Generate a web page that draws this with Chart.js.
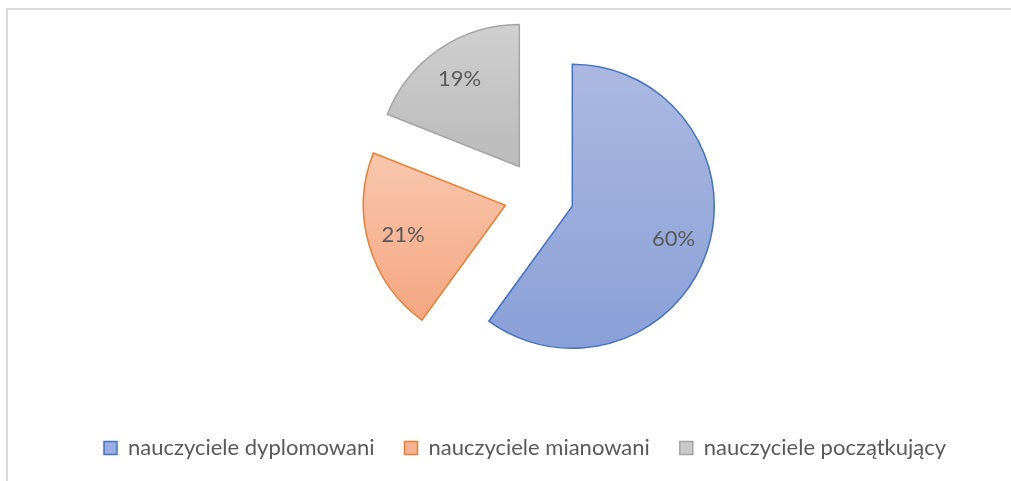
<!DOCTYPE html>
<html>
<head>
<meta charset="utf-8">
<script src="https://cdn.jsdelivr.net/npm/chart.js@4.4.1/dist/chart.umd.min.js"></script>
<style>
  html, body { margin: 0; padding: 0; background: #fff; }
  #wrap { position: relative; width: 1011px; height: 481px; overflow: hidden; }
  #myChart { position: absolute; left: 0; top: -16px; }
  #frame {
    position: absolute; left: 6px; top: 8px; width: 1100px; height: 600px;
    border-left: 2px solid #d9d9d9; border-top: 2px solid #d9d9d9;
    pointer-events: none;
  }
</style>
</head>
<body>
<div id="wrap">
  <canvas id="myChart" width="1011" height="497"></canvas>
  <div id="frame"></div>
</div>
<script>
  const categories = ['nauczyciele dyplomowani', 'nauczyciele mianowani', 'nauczyciele początkujący'];
  const shares = [60, 21, 19];

  const fillTop = ['#aab8e1', '#f8c5ab', '#d4d4d4'];
  const fillBottom = ['#889fd7', '#f4a47e', '#bebebe'];
  const legendFill = ['#9aace0', '#f6b393', '#c9c9c9'];
  const borderColors = ['#4472c4', '#ed7d31', '#a5a5a5'];
  const textColor = '#595959';
  const fontFamily = 'Lato, "Open Sans", sans-serif';

  const slideOut = 35; // how far each slice is pulled out
  const pieRadius = 142;

  // angles of slice i, same way the doughnut controller lays them out
  const sliceAngles = (i) => {
    const total = shares.reduce((a, b) => a + b, 0);
    let a0 = -Math.PI / 2;
    for (let k = 0; k < i; k++) a0 += (shares[k] / total) * Math.PI * 2;
    return [a0, a0 + (shares[i] / total) * Math.PI * 2];
  };

  // vertical gradient spanning each slice on its own
  const sliceFill = (c) => {
    const i = c.dataIndex;
    const { chart } = c;
    const area = chart.chartArea;
    if (i === undefined || !area) return fillBottom[0];
    const cx = (area.left + area.right) / 2;
    const cy = (area.top + area.bottom) / 2;
    const [a0, a1] = sliceAngles(i);
    const mid = (a0 + a1) / 2;
    const vy = cy + Math.sin(mid) * slideOut;
    let top = vy;
    let bottom = vy;
    for (let k = 0; k <= 48; k++) {
      const a = a0 + ((a1 - a0) * k) / 48;
      const y = vy + Math.sin(a) * pieRadius;
      top = Math.min(top, y);
      bottom = Math.max(bottom, y);
    }
    const g = chart.ctx.createLinearGradient(cx, top, cx, bottom);
    g.addColorStop(0, fillTop[i]);
    g.addColorStop(1, fillBottom[i]);
    return g;
  };

  // the arc element grows wide slices by their offset and trims their angles;
  // undo that so every slice keeps the same radius and straight edges
  const evenRadius = {
    id: 'evenRadius',
    beforeDatasetsDraw(chart) {
      chart.getDatasetMeta(0).data.forEach((arc) => {
        const sweep = arc.endAngle - arc.startAngle;
        const grow = slideOut * (1 - Math.sin(Math.min(Math.PI, sweep)));
        const trim = grow / (2 * Math.PI * pieRadius);
        arc.saved = [arc.outerRadius, arc.startAngle, arc.endAngle];
        arc.outerRadius = pieRadius - grow;
        arc.startAngle -= trim;
        arc.endAngle += trim;
      });
    },
    afterDatasetsDraw(chart) {
      chart.getDatasetMeta(0).data.forEach((arc) => {
        [arc.outerRadius, arc.startAngle, arc.endAngle] = arc.saved;
      });
    },
  };

  const sliceLabels = {
    id: 'sliceLabels',
    afterDatasetsDraw(chart) {
      const { ctx } = chart;
      const meta = chart.getDatasetMeta(0);
      ctx.save();
      ctx.font = `22px ${fontFamily}`;
      ctx.fillStyle = textColor;
      ctx.textAlign = 'center';
      ctx.textBaseline = 'middle';
      meta.data.forEach((arc, i) => {
        const { x, y, startAngle, endAngle } = arc.getProps(['x', 'y', 'startAngle', 'endAngle'], true);
        const mid = (startAngle + endAngle) / 2;
        const d = slideOut + pieRadius * 0.75;
        ctx.fillText(`${shares[i]}%`, x + Math.cos(mid) * d, y + Math.sin(mid) * d);
      });
      ctx.restore();
    },
  };

  const $chart = document.querySelector('#myChart');

  const data = {
    labels: categories,
    datasets: [{
      data: shares,
      backgroundColor: sliceFill,
      borderColor: borderColors,
      borderWidth: 1.5,
      borderJoinStyle: 'miter',
      offset: slideOut * 4,
    }],
  };

  const config = {
    type: 'pie',
    data,
    plugins: [evenRadius, sliceLabels],
    options: {
      responsive: false,
      animation: false,
      events: [],
      radius: pieRadius,
      layout: {
        padding: { left: 74, right: 7, top: 0, bottom: 12 },
      },
      plugins: {
        tooltip: { enabled: false },
        legend: {
          position: 'bottom',
          align: 'start',
          labels: {
            boxWidth: 13,
            boxHeight: 13,
            padding: 30,
            color: textColor,
            font: { family: fontFamily, size: 22 },
            generateLabels: () => categories.map((text, i) => ({
              text,
              fillStyle: legendFill[i],
              strokeStyle: borderColors[i],
              lineWidth: 1.5,
              fontColor: textColor,
              hidden: false,
              index: i,
            })),
          },
        },
      },
    },
  };

  const myChart = new Chart($chart, config);
</script>
</body>
</html>
